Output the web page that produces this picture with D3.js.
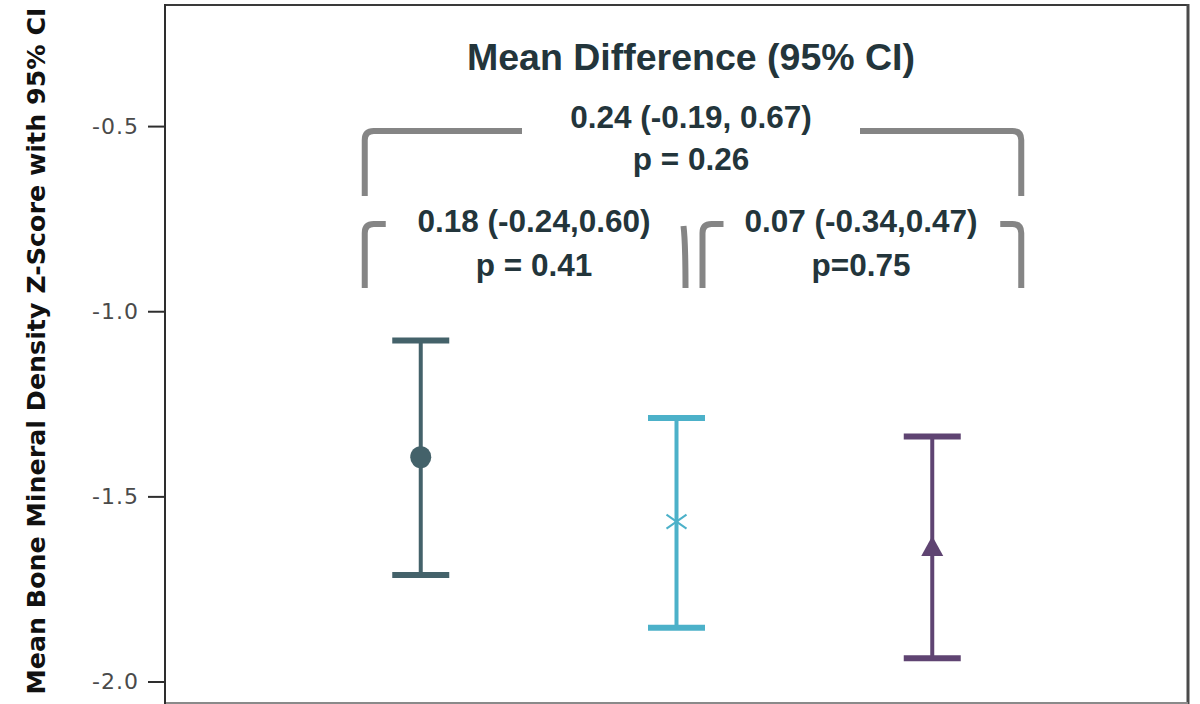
<!DOCTYPE html>
<html>
<head>
<meta charset="utf-8">
<script src="https://cdn.jsdelivr.net/npm/d3@7"></script>
<style>
  body { margin: 0; background: #fff; }
  svg { display: block; }
</style>
</head>
<body>
<svg width="1200" height="704"></svg>
<script>
// data
var groups = ["Group 1", "Group 2", "Group 3"];
var means = [-1.394, -1.568, -1.637];
var ciLow = [-1.712, -1.855, -1.937];
var ciHigh = [-1.079, -1.288, -1.338];
var colors = ["#44626a", "#4cb1c9", "#5f4472"];
var shapes = ["circle", "cross", "triangle"];
var yTicks = [-2.0, -1.5, -1.0, -0.5];

// comparisons (bracket level 0 = lower row, 1 = upper row)
var compFrom = [0, 1, 0];
var compTo = [1, 2, 2];
var compLevel = [0, 0, 1];
var compDiff = ["0.18 (-0.24,0.60)", "0.07 (-0.34,0.47)", "0.24 (-0.19, 0.67)"];
var compP = ["p = 0.41", "p=0.75", "p = 0.26"];

var titleText = "Mean Difference (95% CI)";
var yTitle = "Mean Bone Mineral Density Z-Score with 95% CI";

var svg = d3.select("svg");
// note: "top" is taken by window.top, so use plot* names
var plotL = 165, plotR = 1188, plotT = 5, plotB = 703;
var textColor = "#23353b";
var bracketColor = "#858585";

var x = d3.scalePoint().domain(groups).range([plotL, plotR]).padding(1);
var y = d3.scaleLinear().domain([-2.058, -0.173]).range([plotB, plotT]);

// frame
svg.append("line").attr("x1", plotL).attr("x2", plotR).attr("y1", plotT).attr("y2", plotT)
    .attr("stroke", "#3a3a3a").attr("stroke-width", 2);
svg.append("line").attr("x1", plotR).attr("x2", plotR).attr("y1", plotT - 1).attr("y2", plotB + 1)
    .attr("stroke", "#4a4a4a").attr("stroke-width", 3);
svg.append("line").attr("x1", plotL).attr("x2", plotR).attr("y1", plotB).attr("y2", plotB)
    .attr("stroke", "#8a8a8a").attr("stroke-width", 2);

// y axis
var yAxis = d3.axisLeft(y).tickValues(yTicks).tickSize(17).tickPadding(9);
var gy = svg.append("g").attr("transform", "translate(" + plotL + ",0)").call(yAxis);
gy.select(".domain").attr("stroke", "#2e2e2e").attr("stroke-width", 2)
    .attr("d", "M0," + (plotT - 1) + "V" + (plotB + 1));
gy.selectAll(".tick line").attr("stroke", "#2e2e2e").attr("stroke-width", 2);
gy.selectAll(".tick text")
    .attr("fill", "#4a4a4a")
    .style("font-family", "DejaVu Sans, sans-serif")
    .style("font-size", "22px")
    .style("letter-spacing", "1px")
    .text(function(d){ return d3.format(".1f")(d).replace("\u2212", "-"); });

svg.append("text")
    .attr("transform", "translate(45," + 351 + ") rotate(-90)")
    .attr("text-anchor", "middle")
    .attr("fill", "#111")
    .attr("textLength", 687)
    .attr("lengthAdjust", "spacingAndGlyphs")
    .style("font-family", "DejaVu Sans, sans-serif")
    .style("font-weight", "bold")
    .style("font-size", "24.5px")
    .text(yTitle);

// error bars
var capW = 57;
groups.forEach(function(g, i){
    var cx = x(g);
    var c = colors[i];
    svg.append("line").attr("x1", cx).attr("x2", cx)
        .attr("y1", y(ciHigh[i])).attr("y2", y(ciLow[i]))
        .attr("stroke", c).attr("stroke-width", 4);
    [ciHigh[i], ciLow[i]].forEach(function(v){
        svg.append("line").attr("x1", cx - capW / 2).attr("x2", cx + capW / 2)
            .attr("y1", y(v)).attr("y2", y(v))
            .attr("stroke", c).attr("stroke-width", 6);
    });
    var cy = y(means[i]);
    if (shapes[i] == "circle") {
        svg.append("ellipse").attr("cx", cx).attr("cy", cy).attr("rx", 10.5).attr("ry", 11).attr("fill", c);
    } else if (shapes[i] == "cross") {
        svg.append("path")
            .attr("d", "M" + (cx - 10) + "," + (cy - 7) + "L" + (cx + 10) + "," + (cy + 7) +
                       "M" + (cx - 10) + "," + (cy + 7) + "L" + (cx + 10) + "," + (cy - 7))
            .attr("stroke", c).attr("stroke-width", 2).attr("fill", "none");
    } else {
        svg.append("path")
            .attr("d", "M" + cx + "," + (cy - 11) + "L" + (cx + 11) + "," + (cy + 9) + "L" + (cx - 11) + "," + (cy + 9) + "Z")
            .attr("fill", c);
    }
});

// title
svg.append("text")
    .attr("x", 691).attr("y", 70)
    .attr("text-anchor", "middle")
    .attr("fill", textColor)
    .style("font-family", "Liberation Sans, Arial, sans-serif")
    .style("font-weight", "bold")
    .style("font-size", "37.5px")
    .text(titleText);

// brackets + labels
var levelTop = [224, 131];      // y of horizontal part
var levelBottom = [288, 196];   // y where the legs end
var r = 9, hook = 21;

compFrom.forEach(function(a, k){
    var b = compTo[k], lv = compLevel[k];
    var xl = x(groups[a]) - 56;
    var xr = x(groups[b]) + 89;
    if (lv == 0 && k == 0) xr = x(groups[b]) + 8;
    if (lv == 0 && k == 1) xl = x(groups[a]) + 26;
    var yt = levelTop[lv], yb = levelBottom[lv];
    var mid = (lv == 1) ? (xl + xr) / 2 - 2 : (k == 0 ? 534 : 861);
    var p;
    if (lv == 1) {
        p = "M" + xl + "," + yb + "L" + xl + "," + (yt + r) + "Q" + xl + "," + yt + " " + (xl + r) + "," + yt + "L" + (mid - 169) + "," + yt +
            "M" + (mid + 169) + "," + yt + "L" + (xr - r) + "," + yt + "Q" + xr + "," + yt + " " + xr + "," + (yt + r) + "L" + xr + "," + yb;
    } else if (k == 0) {
        p = "M" + xl + "," + yb + "L" + xl + "," + (yt + r) + "Q" + xl + "," + yt + " " + (xl + r) + "," + yt + "L" + (xl + hook) + "," + yt +
            "M" + (xr - 1) + "," + (yt + 2) + "Q" + (xr + 1) + "," + (yt + 18) + " " + (xr + 1) + "," + yb;
    } else {
        p = "M" + xl + "," + yb + "L" + xl + "," + (yt + r) + "Q" + xl + "," + yt + " " + (xl + r) + "," + yt + "L" + (xl + hook) + "," + yt +
            "M" + (xr - hook) + "," + yt + "L" + (xr - r) + "," + yt + "Q" + xr + "," + yt + " " + xr + "," + (yt + r) + "L" + xr + "," + yb;
    }
    svg.append("path").attr("d", p).attr("fill", "none")
        .attr("stroke", bracketColor).attr("stroke-width", 6);

    var base = (lv == 1) ? 128 : 232;
    var base2 = (lv == 1) ? 170 : 276;
    svg.append("text").attr("x", mid).attr("y", base)
        .attr("text-anchor", "middle").attr("fill", textColor)
        .style("font-family", "Liberation Sans, Arial, sans-serif")
        .style("font-weight", "bold").style("font-size", "31.5px")
        .text(compDiff[k]);
    svg.append("text").attr("x", mid).attr("y", base2)
        .attr("text-anchor", "middle").attr("fill", textColor)
        .style("font-family", "Liberation Sans, Arial, sans-serif")
        .style("font-weight", "bold").style("font-size", "31.5px")
        .text(compP[k]);
});
</script>
</body>
</html>
